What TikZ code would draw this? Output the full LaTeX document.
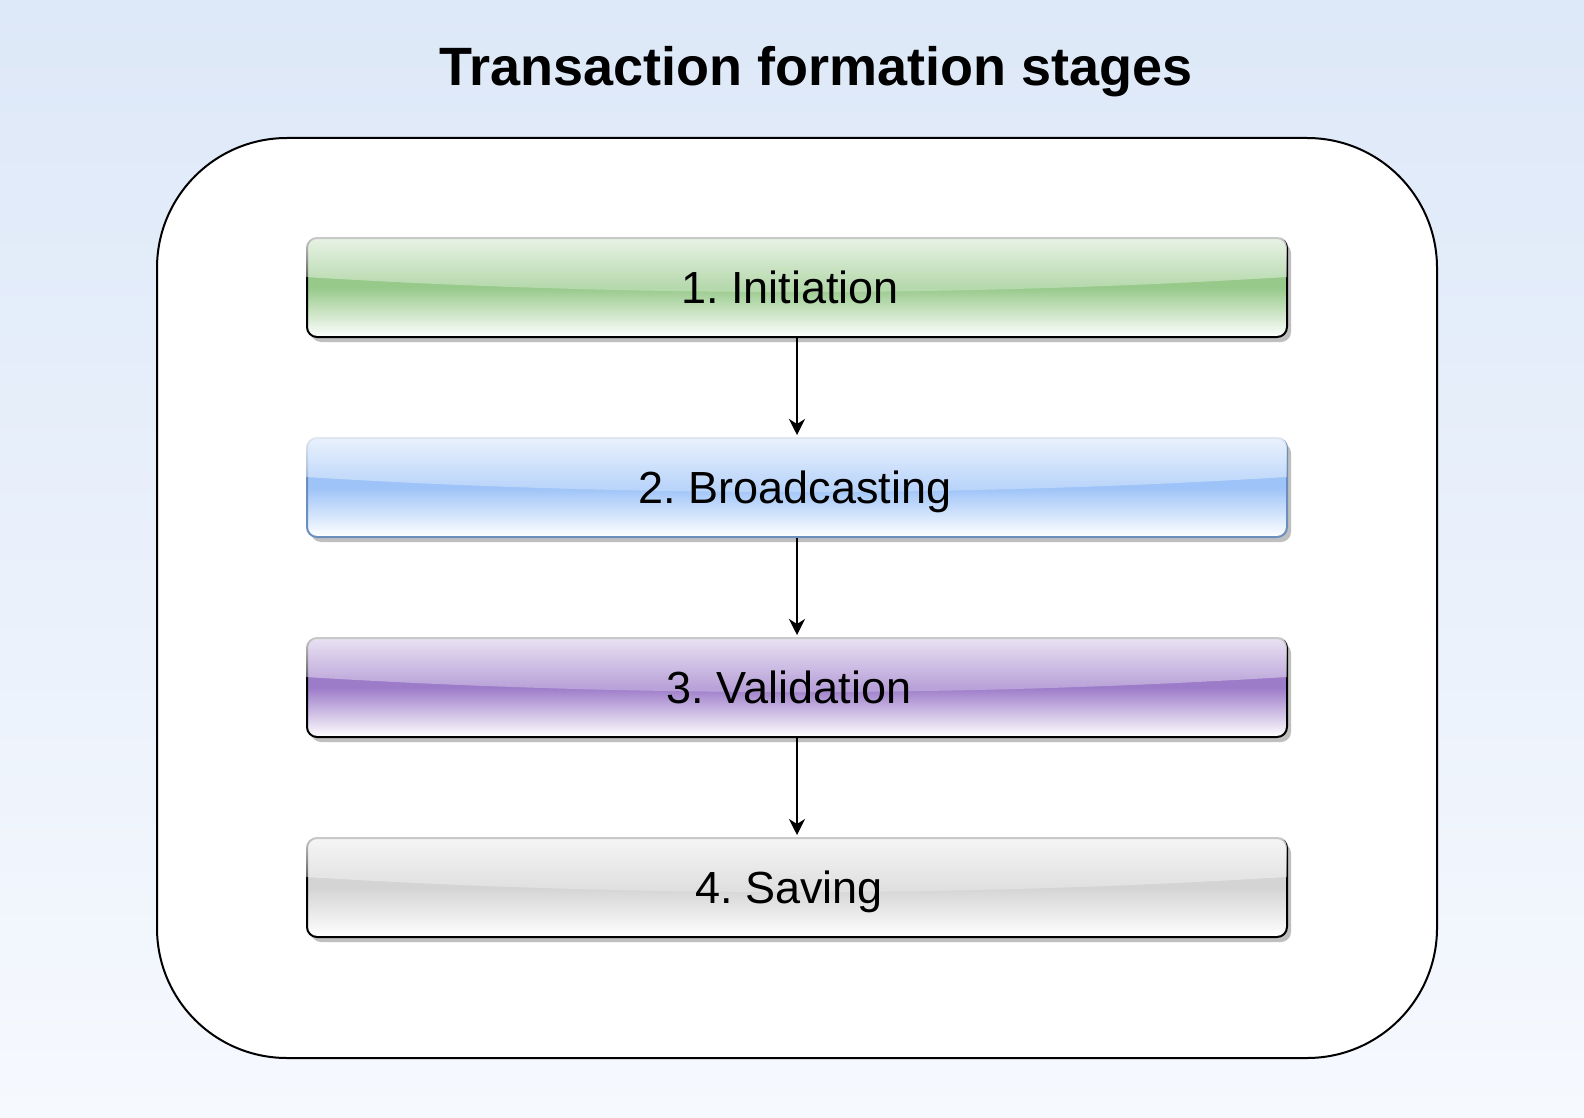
\documentclass[tikz,border=0pt]{standalone}
\usepackage{fontspec}
\setmainfont{Liberation Sans}
\usetikzlibrary{arrows.meta,shadows,fadings}

\definecolor{initgreen}{HTML}{97C98A}
\definecolor{castblue}{HTML}{9DC3F8}
\definecolor{castline}{HTML}{6C8EBF}
\definecolor{validpurple}{HTML}{9C7BC9}
\definecolor{savegray}{HTML}{D4D4D4}
\definecolor{bgtop}{HTML}{DDE8F8}
\definecolor{bgbottom}{HTML}{F6F9FE}

\tikzfading[name=glassfade, top color=transparent!20, bottom color=transparent!80]

\begin{document}
\begin{tikzpicture}[
        x=1pt, y=-1pt,
        container/.style={draw=black, line width=2pt, fill=white, rounded corners=130pt},
        stage/.style={draw=black, line width=2pt, rounded corners=10pt,
          minimum width=980pt, minimum height=99pt, inner sep=0pt,
          top color=#1, bottom color=white, middle color=#1,
          drop shadow={shadow xshift=4pt, shadow yshift=-5pt, fill=black!25, opacity=1}},
        stagetext/.style={font=\frenchspacing\fontsize{45}{54}\selectfont,
          text height=32pt, text depth=0pt, inner sep=0pt},
        glass/.style={fill=white, path fading=glassfade},
        flow/.style={-{Stealth[length=16pt, width=16pt, inset=5pt]}, line width=2pt, shorten >=2pt},
        heading/.style={font=\bfseries\fontsize{54}{64}\selectfont}
      ]

% Background
        \shade[top color=bgtop, bottom color=bgbottom] (0,0) rectangle (1584,1118);
        \useasboundingbox (0,0) rectangle (1584,1118);

% Title
        \node[heading, anchor=base] (title) at (816,86) {Transaction formation stages};

% Container
        \draw[container] (157,138) rectangle (1437,1058);

% Stages
        \node[stage=initgreen] (init) at (797,287.5) {};
        \node[stage=castblue, draw=castline] (cast) at (797,487.5) {};
        \node[stage=validpurple] (valid) at (797,687.5) {};
        \node[stage=savegray] (save) at (797,887.5) {};

% Glass highlight
        \foreach \n in {init,cast,valid,save}
          \fill[glass] (\n.north west) ++(-1,40) [rounded corners=11pt] -- ++(0,-41)
            -- ++(982,0) [sharp corners] -- ++(0,41)
            .. controls +(-327,20) and +(327,20) .. ++(-982,0) -- cycle;

% Stage labels
        \foreach \n/\txt/\dx in {init/1. Initiation/-7, cast/2. Broadcasting/-2,
            valid/3. Validation/-8, save/4. Saving/-8}
          \node[stagetext] (\n-label) at ([xshift=\dx pt]\n.center) {\txt};

% Arrows
        \draw[flow] (init) -- (cast);
        \draw[flow] (cast) -- (valid);
        \draw[flow] (valid) -- (save);

      \end{tikzpicture}
\end{document}
